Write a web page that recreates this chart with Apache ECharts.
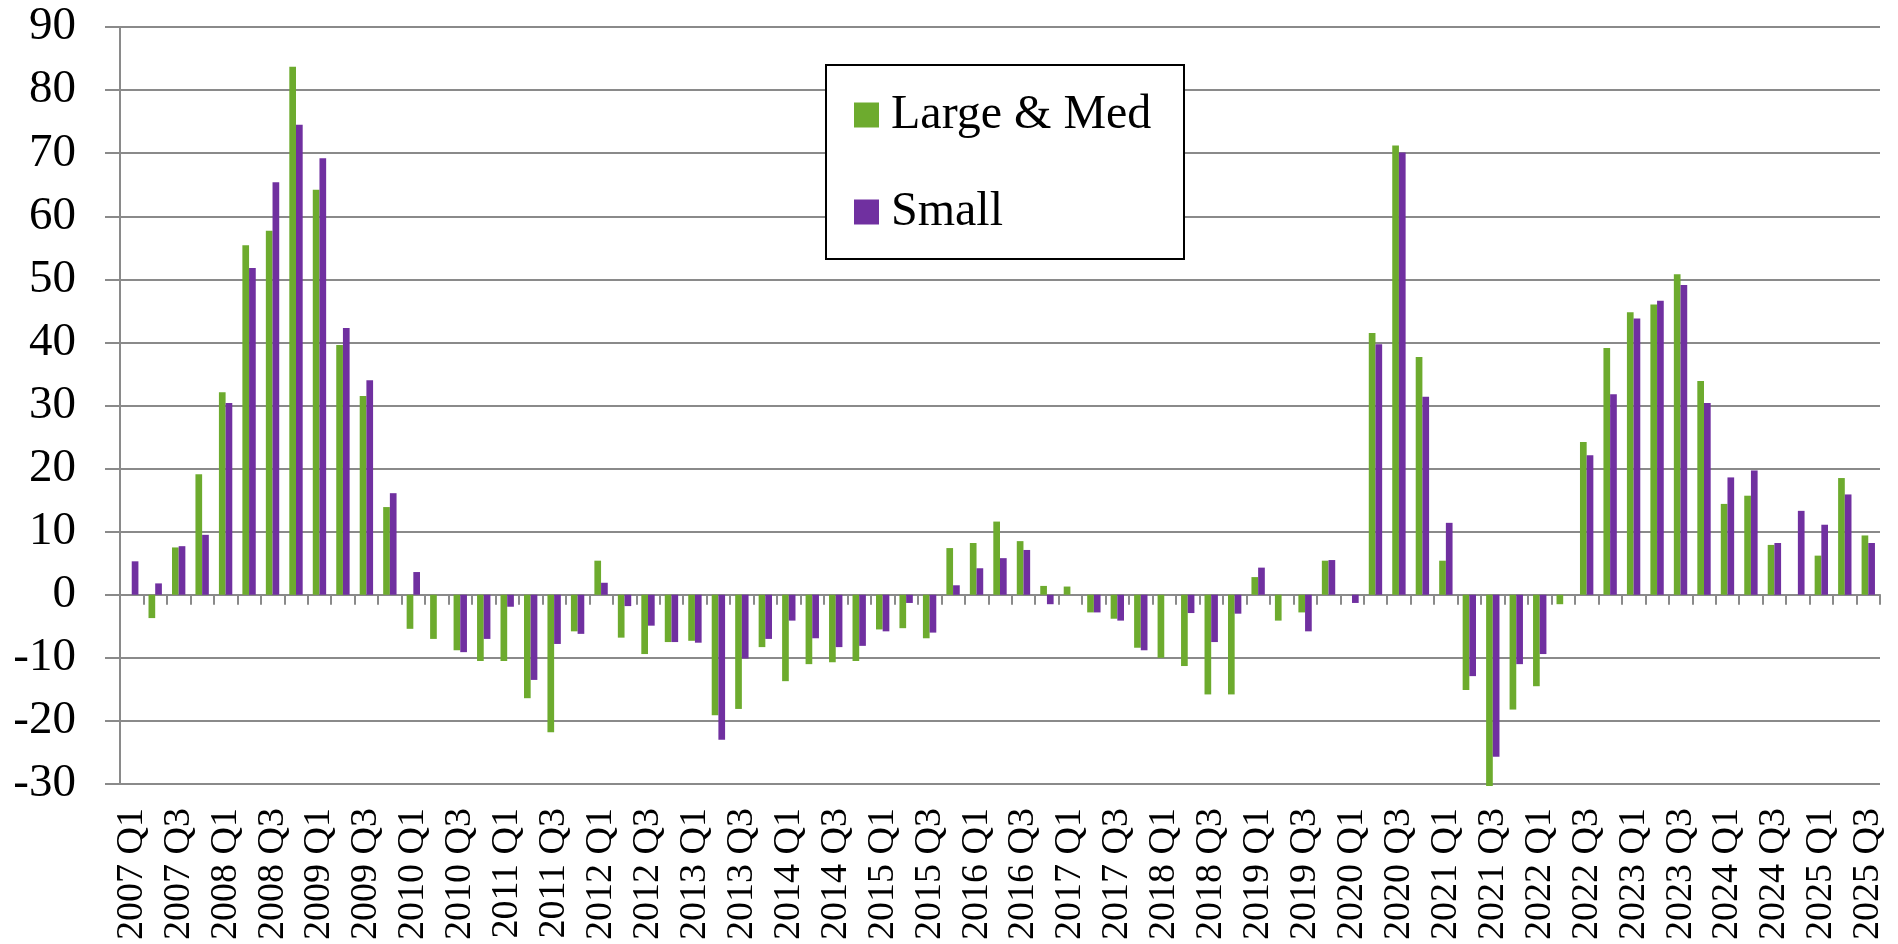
<!DOCTYPE html>
<html>
<head>
<meta charset="utf-8">
<style>
  html, body { margin: 0; padding: 0; background: #fff; }
  #chart { width: 1898px; height: 944px; }
</style>
<script src="https://cdn.jsdelivr.net/npm/echarts@6/dist/echarts.min.js"></script>
</head>
<body>
<div id="chart"></div>
<script>
// Quarter labels, 2007 Q1 .. 2025 Q3
const quarters = [
  '2007 Q1','2007 Q2','2007 Q3','2007 Q4',
  '2008 Q1','2008 Q2','2008 Q3','2008 Q4',
  '2009 Q1','2009 Q2','2009 Q3','2009 Q4',
  '2010 Q1','2010 Q2','2010 Q3','2010 Q4',
  '2011 Q1','2011 Q2','2011 Q3','2011 Q4',
  '2012 Q1','2012 Q2','2012 Q3','2012 Q4',
  '2013 Q1','2013 Q2','2013 Q3','2013 Q4',
  '2014 Q1','2014 Q2','2014 Q3','2014 Q4',
  '2015 Q1','2015 Q2','2015 Q3','2015 Q4',
  '2016 Q1','2016 Q2','2016 Q3','2016 Q4',
  '2017 Q1','2017 Q2','2017 Q3','2017 Q4',
  '2018 Q1','2018 Q2','2018 Q3','2018 Q4',
  '2019 Q1','2019 Q2','2019 Q3','2019 Q4',
  '2020 Q1','2020 Q2','2020 Q3','2020 Q4',
  '2021 Q1','2021 Q2','2021 Q3','2021 Q4',
  '2022 Q1','2022 Q2','2022 Q3','2022 Q4',
  '2023 Q1','2023 Q2','2023 Q3','2023 Q4',
  '2024 Q1','2024 Q2','2024 Q3','2024 Q4',
  '2025 Q1','2025 Q2','2025 Q3'
];

// Net balance, large & medium firms
const largeMed = [
  0, -3.7, 7.5, 19.1,
  32.1, 55.4, 57.7, 83.7,
  64.2, 39.6, 31.5, 13.9,
  -5.4, -7.0, -8.8, -10.5,
  -10.5, -16.4, -21.8, -5.8,
  5.4, -6.8, -9.4, -7.5,
  -7.3, -19.1, -18.1, -8.3,
  -13.7, -11.0, -10.7, -10.5,
  -5.5, -5.3, -6.9, 7.4,
  8.2, 11.6, 8.5, 1.4,
  1.3, -2.8, -3.8, -8.4,
  -10.0, -11.3, -15.8, -15.8,
  2.8, -4.1, -2.8, 5.4,
  0, 41.5, 71.2, 37.7,
  5.4, -15.1, -30.3, -18.2,
  -14.5, -1.5, 24.2, 39.1,
  44.8, 46.0, 50.8, 33.9,
  14.4, 15.7, 7.9, 0,
  6.2, 18.5, 9.4
];

// Net balance, small firms
const small = [
  5.3, 1.8, 7.7, 9.5,
  30.4, 51.8, 65.4, 74.5,
  69.2, 42.3, 34.0, 16.1,
  3.6, 0, -9.1, -7.0,
  -1.9, -13.5, -7.8, -6.2,
  1.9, -1.8, -4.9, -7.5,
  -7.6, -23.0, -10.1, -7.0,
  -4.1, -6.9, -8.3, -8.1,
  -5.8, -1.3, -6.0, 1.5,
  4.2, 5.8, 7.1, -1.5,
  0, -2.8, -4.1, -8.8,
  0, -2.9, -7.5, -3.0,
  4.3, 0, -5.8, 5.5,
  -1.3, 39.7, 70.1, 31.4,
  11.4, -12.9, -25.7, -11.0,
  -9.4, 0, 22.1, 31.8,
  43.8, 46.6, 49.1, 30.4,
  18.6, 19.7, 8.2, 13.3,
  11.1, 15.9, 8.2
];

const seriesNames = ['Large & Med', 'Small'];
const yMin = -30, yMax = 90, yStep = 10;

const FONT = "'Liberation Serif', 'Times New Roman', serif";
const AXIS_GRAY = '#8a8a8a';

const chart = echarts.init(document.getElementById('chart'), null, { renderer: 'canvas' });

chart.setOption({
  backgroundColor: '#ffffff',
  animation: false,
  grid: { left: 120, right: 18, top: 27, bottom: 160, containLabel: false },
  xAxis: [
    {
      // axis line and ticks drawn along the zero line
      type: 'category',
      data: quarters,
      boundaryGap: true,
      axisLine: { show: true, onZero: true, lineStyle: { color: AXIS_GRAY, width: 2 } },
      axisTick: { show: true, interval: 0, length: 10, inside: false, lineStyle: { color: AXIS_GRAY, width: 2 } },
      axisLabel: { show: false },
      splitLine: { show: false }
    },
    {
      // quarter labels along the bottom edge
      type: 'category',
      data: quarters,
      position: 'bottom',
      boundaryGap: true,
      axisLine: { show: false, onZero: false },
      axisTick: { show: false },
      splitLine: { show: false },
      axisLabel: {
        show: true,
        interval: 1,
        rotate: 90,
        margin: 24,
        color: '#000',
        fontFamily: FONT,
        fontSize: 38
      }
    }
  ],
  yAxis: {
    type: 'value',
    min: yMin,
    max: yMax,
    interval: yStep,
    axisLine: { show: true, onZero: false, lineStyle: { color: AXIS_GRAY, width: 2 } },
    axisTick: { show: true, length: 15, lineStyle: { color: AXIS_GRAY, width: 2 } },
    splitLine: { show: true, lineStyle: { color: AXIS_GRAY, width: 2 } },
    axisLabel: {
      color: '#000',
      fontFamily: FONT,
      fontSize: 47,
      margin: 44
    }
  },
  legend: {
    show: true,
    orient: 'vertical',
    left: 854,
    top: 91,
    padding: 0,
    itemWidth: 25,
    itemHeight: 25,
    itemGap: 49,
    icon: 'rect',
    z: 6,
    data: seriesNames,
    textStyle: {
      color: '#000',
      fontFamily: FONT,
      fontSize: 48,
      padding: [0, 0, 0, 7]
    }
  },
  graphic: [
    {
      // legend frame
      type: 'rect',
      z: 5,
      shape: { x: 826, y: 65, width: 358, height: 194 },
      style: { fill: '#ffffff', stroke: '#000000', lineWidth: 2 }
    }
  ],
  series: [
    {
      name: seriesNames[0],
      type: 'bar',
      xAxisIndex: 0,
      data: largeMed,
      barWidth: '28.5%',
      barGap: '0%',
      clip: false,
      itemStyle: { color: '#6dab2e' }
    },
    {
      name: seriesNames[1],
      type: 'bar',
      xAxisIndex: 0,
      data: small,
      barWidth: '28.5%',
      barGap: '0%',
      clip: false,
      itemStyle: { color: '#7030a0' }
    }
  ]
});
</script>
</body>
</html>
